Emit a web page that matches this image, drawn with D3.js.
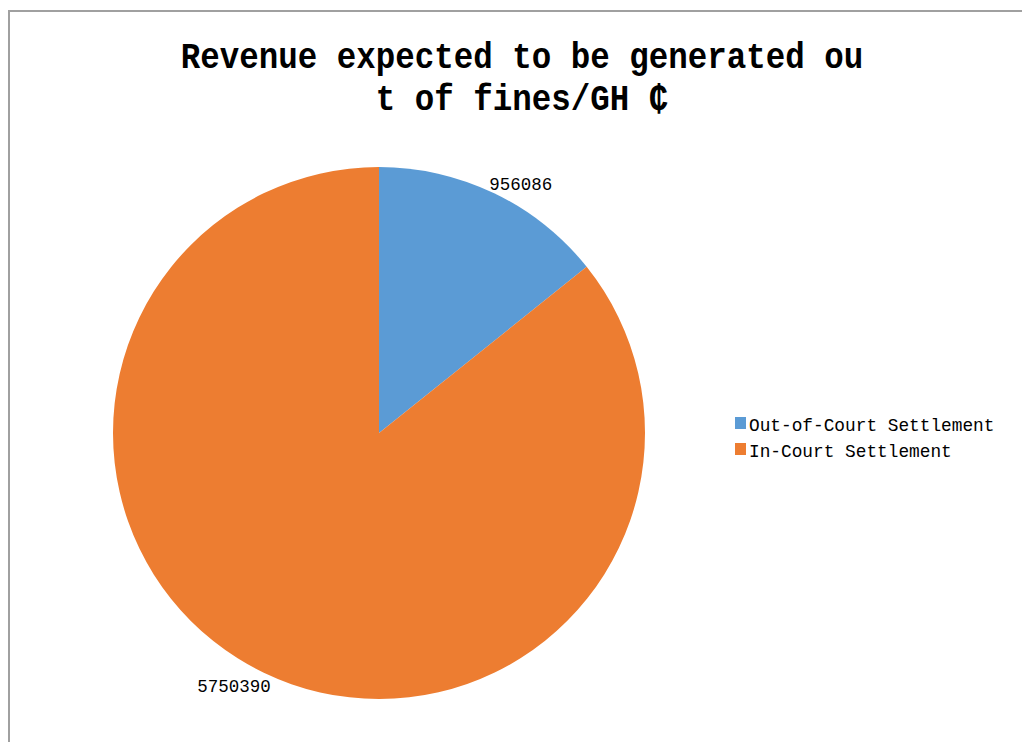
<!DOCTYPE html>
<html>
<head>
<meta charset="utf-8">
<script src="https://cdn.jsdelivr.net/npm/d3@7"></script>
<style>
  body { margin: 0; background: #fff; }
  svg { display: block; }
</style>
</head>
<body>
<div id="chart-area"></div>
<script>
var categories = ["Out-of-Court Settlement", "In-Court Settlement"];
var values = [956086, 5750390];
var colors = ["#5b9bd5", "#ed7d31"];
var titleLines = ["Revenue expected to be generated ou", "t of fines/GH \u20B5"];

var width = 1022, height = 742;
var cx = 379, cy = 433, radius = 266;
var mono = "'Liberation Mono', 'DejaVu Sans Mono', monospace";

var svg = d3.select("#chart-area").append("svg")
    .attr("width", width)
    .attr("height", height);

// chart frame
svg.append("rect")
    .attr("x", 9).attr("y", 11)
    .attr("width", 1030).attr("height", 760)
    .attr("fill", "#fff")
    .attr("stroke", "#a0a0a0")
    .attr("stroke-width", 2);

// title (narrow tall glyphs, like the original)
svg.selectAll(".title")
    .data(titleLines)
    .enter()
    .append("text")
    .attr("class", "title")
    .attr("text-anchor", "middle")
    .attr("transform", (d, i) => "translate(522," + (68 + i * 42) + ") scale(1,1.2)")
    .attr("font-family", mono)
    .attr("font-weight", "bold")
    .attr("font-size", "31px")
    .attr("textLength", (d) => d.length * 19.5)
    .attr("lengthAdjust", "spacingAndGlyphs")
    .attr("fill", "#000")
    .text((d) => d);

var pie = d3.pie().sort(null).value((d) => d);
var arc = d3.arc().innerRadius(0).outerRadius(radius);
var arcs = pie(values);

var g = svg.append("g").attr("transform", "translate(" + cx + "," + cy + ")");

g.selectAll("path")
    .data(arcs)
    .enter()
    .append("path")
    .attr("d", arc)
    .attr("fill", (d, i) => colors[i]);

// data labels, outside end
g.selectAll(".label")
    .data(arcs)
    .enter()
    .append("text")
    .attr("class", "label")
    .attr("font-family", mono)
    .attr("font-size", "17.5px")
    .attr("fill", "#000")
    .each(function(d) {
      var a = (d.startAngle + d.endAngle) / 2;
      var px = radius * Math.sin(a), py = -radius * Math.cos(a);
      var right = Math.sin(a) >= 0;
      d3.select(this)
        .attr("text-anchor", right ? "start" : "end")
        .attr("x", right ? px - 5 : px + 7)
        .attr("y", right ? py - 3 : py + 19);
    })
    .text((d) => d.value);

// legend
var legend = svg.append("g").attr("transform", "translate(735,417)");
var items = legend.selectAll("g")
    .data(categories)
    .enter()
    .append("g")
    .attr("transform", (d, i) => "translate(0," + i * 26 + ")");
items.append("rect")
    .attr("width", 11).attr("height", 12)
    .attr("fill", (d, i) => colors[i]);
items.append("text")
    .attr("x", 14).attr("y", 14)
    .attr("font-family", mono)
    .attr("font-size", "17.8px")
    .attr("fill", "#000")
    .text((d) => d);
</script>
</body>
</html>
